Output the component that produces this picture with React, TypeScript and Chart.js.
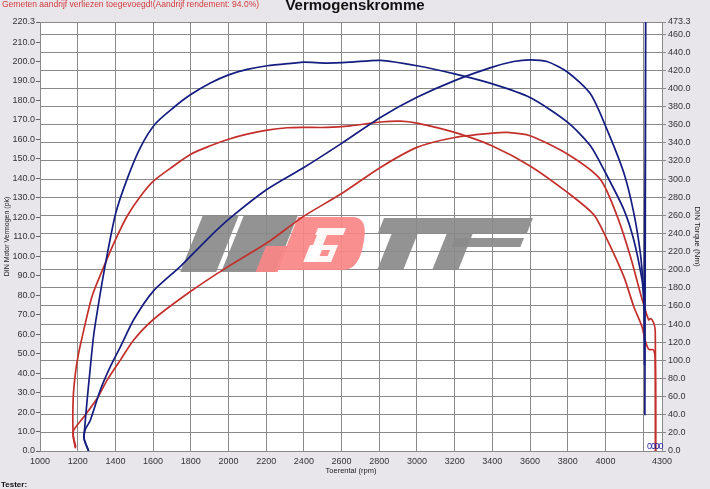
import React, { useEffect, useRef } from 'react';
import { Chart, registerables } from 'chart.js';

Chart.register(...registerables);

// ---------- axis ticks ----------
const rpmTicks = [1000, 1200, 1400, 1600, 1800, 2000, 2200, 2400, 2600, 2800, 3000, 3200, 3400, 3600, 3800, 4000, 4200, 4300];
const rpmUnlabelled = [4200];
const pkTicks = [0, 10, 20, 30, 40, 50, 60, 70, 80, 90, 100, 110, 120, 130, 140, 150, 160, 170, 180, 190, 200, 210, 220.3];
const nmTicks = [0, 20, 40, 60, 80, 100, 120, 140, 160, 180, 200, 220, 240, 260, 280, 300, 320, 340, 360, 380, 400, 420, 440, 460, 473.3];

// ---------- texts ----------
const chartTitle = 'Vermogenskromme';
const lossNote = 'Gemeten aandrijf verliezen toegevoegd!(Aandrijf rendement: 94.0%)';
const testerLabel = 'Tester:';
const xTitle = 'Toerental (rpm)';
const yLeftTitle = 'DIN Motor Vermogen (pk)';
const yRightTitle = 'DIN Torque (Nm)';
const endValueLabels = ['0.0', '0.0'];

// ---------- series: blue run ----------
const bluePowerRpm = [1258, 1235, 1240, 1267, 1320, 1373, 1427, 1497, 1600, 1745, 1886, 2000, 2205, 2400, 2594, 2806, 3000, 3200, 3400, 3513, 3600, 3690, 3800, 3920, 4000, 4097, 4150, 4185, 4200, 4205, 4207];
const bluePowerPk = [0, 6, 11, 15.8, 31.3, 43.3, 53.6, 67.4, 82, 94.8, 108.6, 118.9, 134.4, 145.6, 157.6, 171.3, 181.6, 190.2, 197.1, 200, 200.9, 200, 194.5, 183.4, 167, 143, 122.4, 101.7, 84.5, 70, 44];

const blueTorqueRpm = [1258, 1233, 1236, 1250, 1264, 1282, 1294, 1338, 1400, 1462, 1533, 1612, 1709, 1798, 1904, 2001, 2099, 2205, 2346, 2400, 2523, 2647, 2806, 3000, 3200, 3400, 3600, 3800, 3920, 4000, 4097, 4150, 4194, 4206, 4214, 4209];
const blueTorqueNm = [0, 14, 23, 56, 86, 123, 141, 196, 261, 300, 335, 361, 379, 393, 406, 415, 421, 425, 428, 429, 428, 429, 431, 425, 416, 405, 390, 362.6, 336.7, 307, 266.6, 233, 189, 167, 520, 39.5];

// ---------- series: red run ----------
const redPowerRpm = [1190, 1176, 1180, 1232, 1303, 1356, 1427, 1497, 1600, 1800, 2000, 2205, 2400, 2594, 2806, 3000, 3200, 3400, 3478, 3600, 3800, 3973, 4062, 4132, 4185, 4206, 4229, 4240, 4255, 4264, 4266];
const redPowerPk = [2, 8, 11, 17.5, 27, 36.4, 46.8, 57, 67.4, 82, 94.8, 106.9, 120.6, 131.8, 145.6, 155.9, 161, 163.2, 163.6, 161.9, 152.4, 139.5, 120.6, 100, 81.1, 74.2, 67.4, 68, 66, 62, 0];

const redTorqueRpm = [1188, 1176, 1176, 1188, 1205, 1223, 1276, 1347, 1400, 1462, 1533, 1603, 1709, 1800, 1904, 2000, 2099, 2205, 2311, 2400, 2523, 2647, 2806, 2912, 3000, 3200, 3400, 3600, 3800, 3937, 4000, 4097, 4150, 4194, 4210, 4229, 4255, 4264, 4266];
const redTorqueNm = [3, 17, 58, 86, 108, 125, 170.5, 207.5, 233, 259, 281, 298, 314.5, 327.5, 336.7, 344, 349.6, 354, 356.6, 357, 357, 358.8, 363, 364, 361.8, 351.5, 336.6, 314.5, 285, 261, 237, 192.7, 159.5, 137, 122.6, 112.3, 111.5, 100, 0];

const zip = (xs: number[], ys: number[]) => xs.map((x, i) => ({ x, y: ys[i] }));

const FONT = "'Liberation Sans', Arial, sans-serif";
const BLUE = '#151d80';
const RED = '#c3302c';
const GRID = '#8a8a8a';

const decorPlugin = {
  id: 'decor',
  beforeDraw(chart: any) {
    const { ctx, chartArea: a, width, height } = chart;
    ctx.save();
    ctx.fillStyle = '#e8e6eb';
    ctx.fillRect(0, 0, width, height);
    ctx.fillStyle = '#ffffff';
    ctx.fillRect(a.left, a.top, a.right - a.left, a.bottom - a.top);
    ctx.restore();
  },
  beforeDatasetsDraw(chart: any) {
    const { ctx } = chart;
    const s = 0.4;
    const para = (xl: number, xr: number, y0: number, y1: number) => {
      const d = s * (y1 - y0);
      ctx.beginPath();
      ctx.moveTo(xl, y0);
      ctx.lineTo(xr, y0);
      ctx.lineTo(xr - d, y1);
      ctx.lineTo(xl - d, y1);
      ctx.closePath();
      ctx.fill();
    };
    ctx.save();
    ctx.globalAlpha = 0.92;
    ctx.fillStyle = '#8a8a8a';
    para(203, 239, 215, 272);
    para(244, 298, 215, 272);
    ctx.fillStyle = '#f98585';
    para(266, 288, 246, 272);
    ctx.beginPath();
    ctx.moveTo(298, 217);
    ctx.lineTo(352, 217);
    ctx.quadraticCurveTo(368, 217, 364, 240);
    ctx.quadraticCurveTo(360, 270, 343, 270);
    ctx.lineTo(277, 270);
    ctx.closePath();
    ctx.fill();
    ctx.fillStyle = '#ffffff';
    para(318, 346, 228, 235);
    para(317, 327, 235, 262);
    para(310, 338, 245, 262);
    ctx.fillStyle = '#f98585';
    para(322, 330, 250, 256);
    ctx.fillStyle = '#8a8a8a';
    para(384, 533, 218, 233);
    para(392, 418, 233, 270);
    para(447, 473, 233, 270);
    para(455, 524, 238, 247);
    ctx.restore();
  },
  afterDraw(chart: any) {
    const { ctx, scales } = chart;
    ctx.save();
    ctx.textBaseline = 'middle';
    ctx.fillStyle = '#111';
    ctx.font = `bold 15px ${FONT}`;
    ctx.textAlign = 'center';
    ctx.fillText(chartTitle, 355, 6);
    ctx.fillStyle = '#d23a3a';
    ctx.font = `8.5px ${FONT}`;
    ctx.textAlign = 'left';
    ctx.fillText(lossNote, 2, 5);
    ctx.fillStyle = '#111';
    ctx.font = `bold 8px ${FONT}`;
    ctx.textBaseline = 'top';
    ctx.fillText(testerLabel, 1, 481);
    ctx.fillStyle = '#1d1da0';
    ctx.font = `9px ${FONT}`;
    ctx.textBaseline = 'middle';
    const yb = scales.y.getPixelForValue(0) - 4;
    const xb = scales.x.getPixelForValue(4220);
    endValueLabels.forEach((t, i) => ctx.fillText(t, xb + i * 4, yb));
    ctx.restore();
  },
};

export default function App() {
  const ref = useRef<HTMLCanvasElement>(null);
  useEffect(() => {
    document.body.style.margin = '0';
    const line = { pointRadius: 0, borderWidth: 1.7, tension: 0.25, fill: false };
    const chart = new Chart(ref.current as HTMLCanvasElement, {
      type: 'line',
      data: {
        datasets: [
          { ...line, label: 'Vermogen 1', data: zip(bluePowerRpm, bluePowerPk), borderColor: BLUE, yAxisID: 'y' },
          { ...line, label: 'Koppel 1', data: zip(blueTorqueRpm, blueTorqueNm), borderColor: BLUE, yAxisID: 'y1' },
          { ...line, label: 'Vermogen 2', data: zip(redPowerRpm, redPowerPk), borderColor: RED, yAxisID: 'y' },
          { ...line, label: 'Koppel 2', data: zip(redTorqueRpm, redTorqueNm), borderColor: RED, yAxisID: 'y1' },
        ],
      },
      options: {
        responsive: false,
        animation: false,
        devicePixelRatio: 1,
        layout: { padding: { top: 22, left: 0, right: 0, bottom: 0 } },
        plugins: { legend: { display: false }, tooltip: { enabled: false }, title: { display: false } },
        scales: {
          x: {
            type: 'linear',
            min: 1000,
            max: 4300,
            afterBuildTicks: (s: any) => { s.ticks = rpmTicks.map((v) => ({ value: v })); },
            afterFit: (s: any) => { s.height = 38; },
            ticks: {
              autoSkip: false,
              maxRotation: 0,
              padding: 5,
              color: '#333',
              font: { family: FONT, size: 9 },
              callback: (v: any) => (rpmUnlabelled.includes(Number(v)) ? '' : String(v)),
            },
            grid: { color: GRID, lineWidth: 1, drawTicks: false },
            border: { display: false },
            title: { display: true, text: xTitle, color: '#222', font: { family: FONT, size: 7.5 }, padding: { top: 0, bottom: 14 } },
          },
          y: {
            type: 'linear',
            position: 'left',
            min: 0,
            max: 220.3,
            afterBuildTicks: (s: any) => { s.ticks = pkTicks.map((v) => ({ value: v })); },
            afterFit: (s: any) => { s.width = 40; },
            ticks: {
              autoSkip: false,
              padding: 1,
              color: '#333',
              font: { family: FONT, size: 9 },
              callback: (v: any) => Number(v).toFixed(1),
            },
            grid: { drawOnChartArea: false, drawTicks: true, tickLength: 4, color: '#666' },
            border: { display: false },
            title: { display: true, text: yLeftTitle, color: '#222', font: { family: FONT, size: 7 }, padding: { top: 3, bottom: 0 } },
          },
          y1: {
            type: 'linear',
            position: 'right',
            min: 0,
            max: 473.3,
            afterBuildTicks: (s: any) => { s.ticks = nmTicks.map((v) => ({ value: v })); },
            afterFit: (s: any) => { s.width = 48; },
            ticks: {
              autoSkip: false,
              padding: 2,
              color: '#333',
              font: { family: FONT, size: 9 },
              callback: (v: any) => Number(v).toFixed(1),
            },
            grid: { drawOnChartArea: true, drawTicks: true, tickLength: 4, color: GRID, lineWidth: 1 },
            border: { display: false },
            title: { display: true, text: yRightTitle, color: '#222', font: { family: FONT, size: 8 }, padding: { top: 8, bottom: 0 } },
          },
        },
      } as any,
      plugins: [decorPlugin],
    });
    return () => chart.destroy();
  }, []);
  return (
    <div style={{ width: 710, height: 489, background: '#e8e6eb' }}>
      <canvas ref={ref} width={710} height={489} style={{ display: 'block' }} />
    </div>
  );
}
